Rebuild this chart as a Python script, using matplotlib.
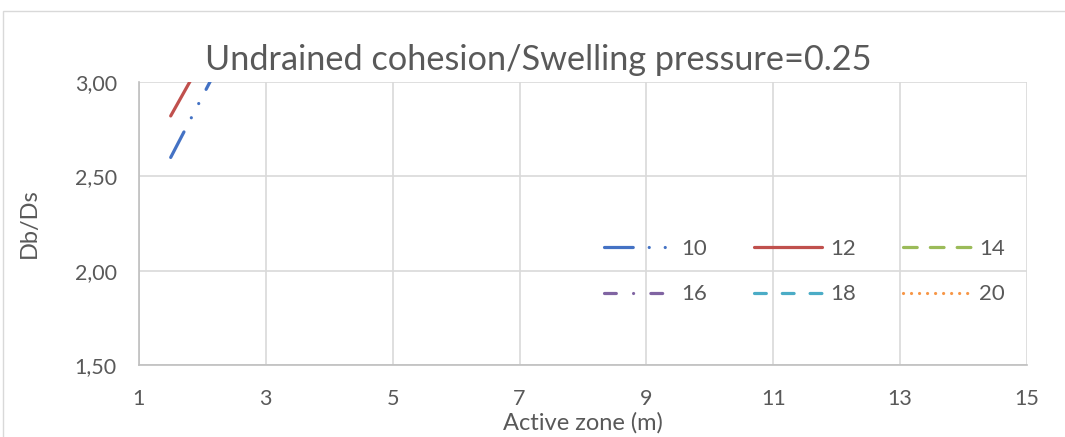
import matplotlib.pyplot as plt
from matplotlib.patches import Rectangle
from matplotlib.ticker import FuncFormatter

plt.rcParams['font.family'] = ['Lato', 'DejaVu Sans']

# Db/Ds against active zone depth, one series per soil case
active_zone = [1.5, 3.0]
db_ds = {
    '10': [2.60, 3.57],
    '12': [2.82, 3.72],
    '14': [3.10, 3.90],
    '16': [3.20, 4.00],
    '18': [3.30, 4.10],
    '20': [3.40, 4.20],
}
colors = {'10': '#4472c4', '12': '#c0504d', '14': '#9bbb59',
          '16': '#8064a2', '18': '#4bacc6', '20': '#f79646'}
dashes = {'10': (9, 5, 0.01, 5, 0.01, 5), '12': None, '14': (4.3, 4.1),
          '16': (3.7, 5.4, 0.01, 5.4), '18': (3.7, 5), '20': (0.01, 2.5)}
text_col = '#595959'

fig = plt.figure(figsize=(10.65, 4.37), dpi=100)
fig.patches.append(Rectangle((0.003, -0.1), 1.2, 1.074, transform=fig.transFigure,
                             fill=False, edgecolor='#d9d9d9', linewidth=1))
ax = fig.add_axes([0.1305, 0.1648, 0.8338, 0.6476])

handles = {}
for name, vals in db_ds.items():
    line, = ax.plot(active_zone, vals, color=colors[name], linewidth=2.3,
                    solid_capstyle='round', dash_capstyle='round', label=name)
    if dashes[name] is not None:
        line.set_dashes(dashes[name])
    handles[name] = line

ax.set_xlim(1, 15)
ax.set_ylim(1.5, 3.0)
ax.set_xticks(range(1, 16, 2))
ax.set_yticks([1.5, 2.0, 2.5, 3.0])
ax.yaxis.set_major_formatter(FuncFormatter(lambda v, p: f'{v:.2f}'.replace('.', ',')))
ax.grid(True, color='#d9d9d9', linewidth=1.2)
ax.set_axisbelow(True)
for s in ['top', 'right']:
    ax.spines[s].set_visible(False)
for s in ['left', 'bottom']:
    ax.spines[s].set_color('#bfbfbf')
    ax.spines[s].set_linewidth(1.2)
ax.tick_params(length=0, labelsize=15.5, labelcolor=text_col)
ax.tick_params(axis='x', pad=17)
ax.tick_params(axis='y', pad=16)

fig.text(0.505, 0.862, 'Undrained cohesion/Swelling pressure=0.25', fontsize=24.7,
         color=text_col, ha='center', va='center')
ax.set_xlabel('Active zone (m)', fontsize=17, color=text_col, va='top')
ax.xaxis.set_label_coords(0.5, -0.168)
ax.set_ylabel('Db/Ds', fontsize=17, color=text_col)
ax.yaxis.set_label_coords(-0.112, 0.5)

# legend filled row by row: 10 12 14 / 16 18 20
order = ['10', '16', '12', '18', '14', '20']
fig.legend([handles[k] for k in order], order, ncol=3, loc='upper left',
           bbox_to_anchor=(0.557, 0.479), frameon=False, borderpad=0,
           fontsize=16, labelcolor=text_col, handlelength=3.1,
           columnspacing=2.1, handletextpad=0.35, labelspacing=1.15)

fig.savefig('out.png', dpi=100)
